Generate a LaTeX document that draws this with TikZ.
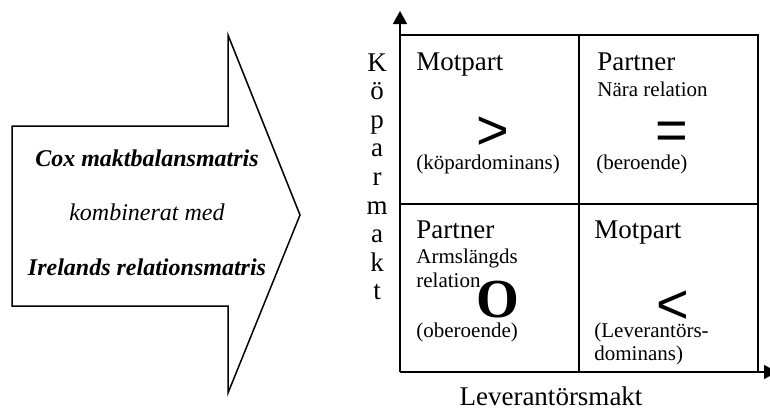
\documentclass[tikz,border=0pt]{standalone}
\usepackage{fontspec}
\setmainfont{Liberation Serif}
\newfontfamily\symfont{Liberation Sans}
\usetikzlibrary{arrows.meta}

\begin{document}
\begin{tikzpicture}[x=0.5pt, y=-0.5pt,
    axis/.style={line width=0.8pt, -{Triangle[length=6.5pt, width=7pt]}},
    line/.style={line width=0.75pt},
    head/.style={anchor=base west, inner sep=0pt, font=\fontsize{13.5}{16}\selectfont},
    note/.style={anchor=base west, inner sep=0pt, font=\fontsize{10.5}{12}\selectfont},
    sym/.style={anchor=base, inner sep=0pt, font=\symfont\fontsize{28}{28}\selectfont}]
    \useasboundingbox (0,0) rectangle (770,408);

    % big arrow with the two matrices
    \draw[line] (12,126) -- (228,126) -- (228,35) -- (300,215) -- (228,393)
      -- (228,306) -- (12,306) -- cycle;
    \node[inner sep=0pt, font=\fontsize{12}{14}\selectfont] (cox) at (147,158)
      {\textbf{\textit{Cox maktbalansmatris}}};
    \node[inner sep=0pt, font=\fontsize{12}{14}\selectfont] (med) at (147,212)
      {\textit{kombinerat med}};
    \node[inner sep=0pt, font=\fontsize{12}{14}\selectfont] (ire) at (147,267)
      {\textbf{\textit{Irelands relationsmatris}}};

    % axes and the four cells
    \coordinate (o) at (400,372);
    \coordinate (ytop) at (400,11);
    \coordinate (xend) at (777,372);
    \draw[axis] (o) -- (ytop);
    \draw[axis] (o) -- (xend);
    \draw[line] (400,35) -- (758,35) -- (758,372);
    \draw[line] (579,35) -- (579,372);
    \draw[line] (400,204) -- (758,204);

    % top left
    \node[head] (tl) at (416,70) {Motpart};
    \node[sym] (gt) at (493,149) {>};
    \node[note] (tlnote) at (416,169.5) {(köpardominans)};
    % top right
    \node[head] (tr) at (597,70) {Partner};
    \node[note] (trsub) at (597,96) {Nära relation};
    \node[sym] (eq) at (671.5,149) {=};
    \node[note] (trnote) at (596,169.5) {(beroende)};
    % bottom left
    \node[head] (bl) at (416,238) {Partner};
    \node[note] (blsub) at (416,263) {Armslängds};
    \node[note] (blsub2) at (416,287) {relation};
    \node[anchor=base, inner sep=0pt, font=\fontsize{27.5}{30}\selectfont\bfseries] (zero) at (498,317) {O};
    \node[note] (blnote) at (416,337.5) {(oberoende)};
    % bottom right
    \node[head] (br) at (594,238) {Motpart};
    \node[sym] (lt) at (672.5,323) {<};
    \node[note] (brnote) at (594,337.5) {(Leverantörs-};
    \node[note] (brnote2) at (594,360) {dominans)};

    % axis titles
    \node[inner sep=0pt, anchor=north, align=center,
      font=\fontsize{13.5}{14.3}\selectfont] (kop) at (377,53)
      {K\\ö\\p\\a\\r\\m\\a\\k\\t};
    \node[head, anchor=base] (lev) at (551,405) {Leverantörsmakt};
\end{tikzpicture}
\end{document}
